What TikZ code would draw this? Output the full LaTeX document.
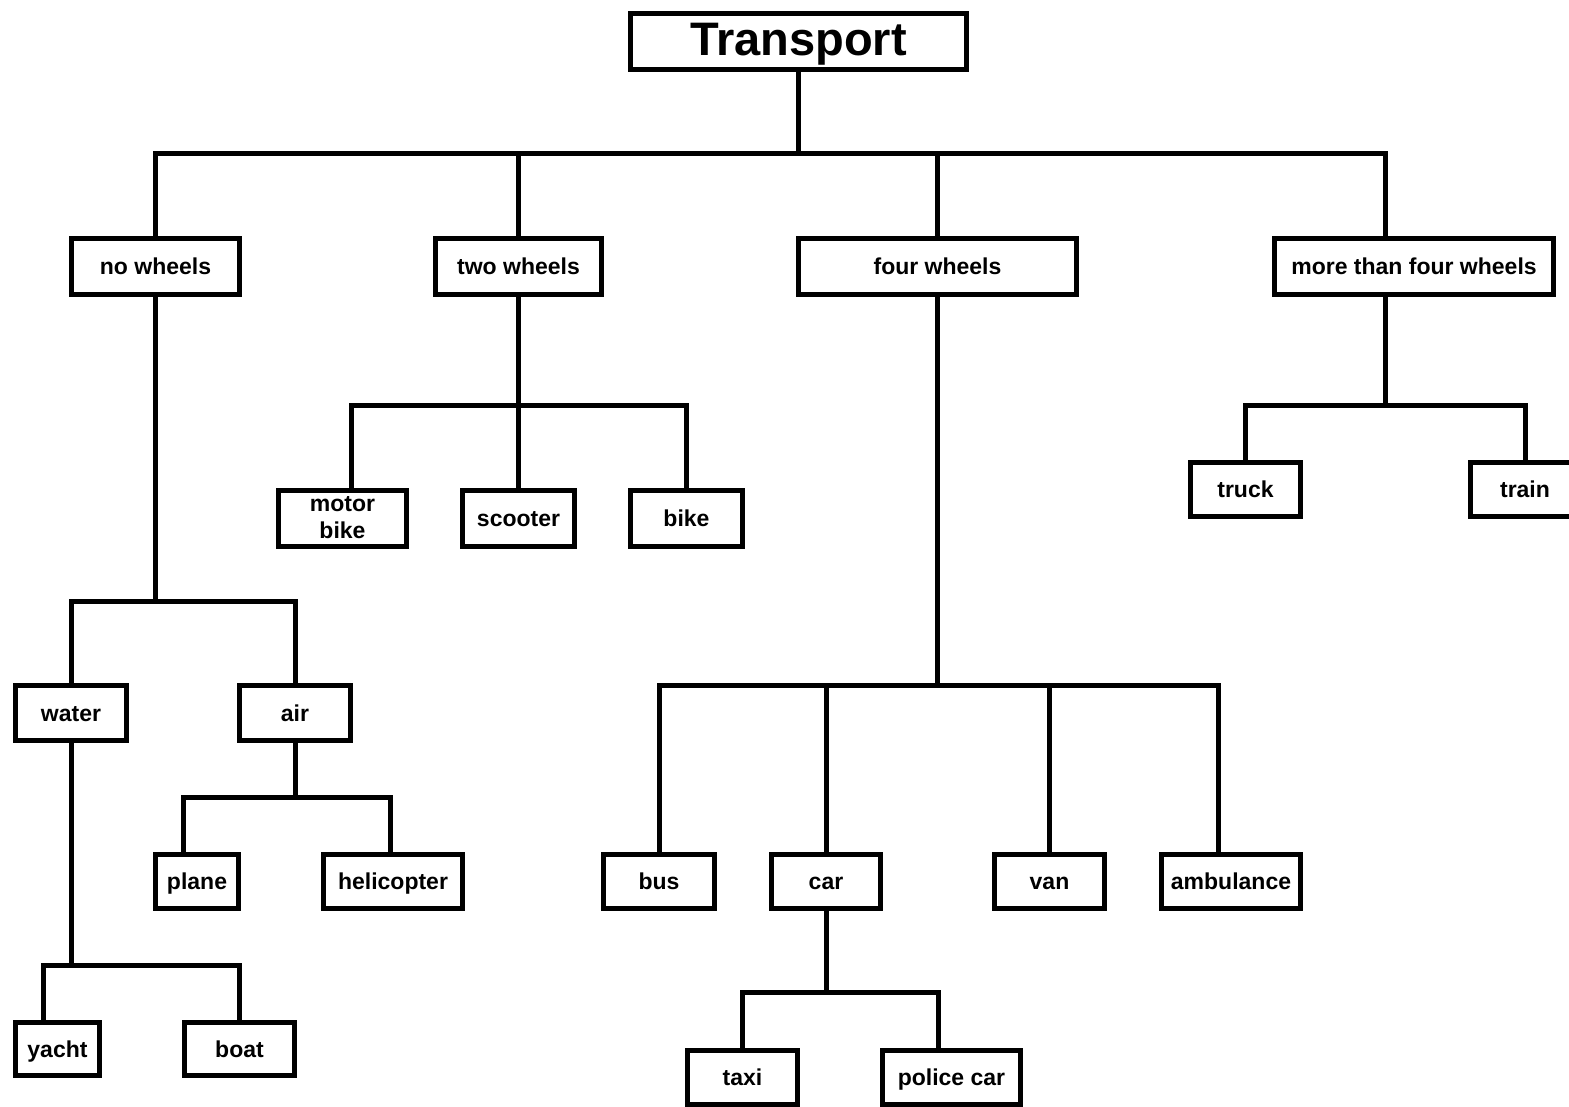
\documentclass[tikz,border=0pt]{standalone}
\usepackage{fontspec}
\setmainfont{Liberation Sans}
\begin{document}
\begin{tikzpicture}[x=1pt,y=-1pt,
  boxbase/.style={draw=black,line width=5pt,fill=white,inner sep=0pt,
    font=\fontsize{23}{27}\selectfont\bfseries,align=center,minimum height=56pt},
  box/.style={boxbase,text height=16pt,text depth=0pt},
  conn/.style={draw=black,line width=5pt,line join=miter}]
\useasboundingbox (0,0) rectangle (1569,1106);
% nodes
\node[box,minimum width=336pt,minimum height=56pt,
  font=\fontsize{47}{50}\selectfont\bfseries,text height=27pt] (T) at (798.5,41.5) {Transport};
\node[box,minimum width=168pt] (nw) at (155.5,266) {no wheels};
\node[box,minimum width=166pt] (tw) at (518.5,266) {two wheels};
\node[box,minimum width=278pt] (fw) at (937.5,266) {four wheels};
\node[box,minimum width=279pt] (mtf) at (1414,266) {more than four wheels};
\node[boxbase,minimum width=128pt] (mb) at (342.5,518) {motor\\bike};
\node[box,minimum width=112pt] (sc) at (518.5,518) {scooter};
\node[box,minimum width=112pt] (bk) at (686.5,518) {bike};
\node[box,minimum width=110pt,minimum height=54pt] (tr) at (1245.5,489.5) {truck};
\node[box,minimum width=110pt,minimum height=54pt] (tn) at (1525,489.5) {train};
\node[box,minimum width=111pt,minimum height=55pt] (wa) at (71,713) {water};
\node[box,minimum width=111pt,minimum height=55pt] (ai) at (295,713) {air};
\node[box,minimum width=83pt,minimum height=54pt] (pl) at (197,881.5) {plane};
\node[box,minimum width=139pt,minimum height=54pt] (he) at (393,881.5) {helicopter};
\node[box,minimum width=84pt,minimum height=53pt] (ya) at (57.5,1049) {yacht};
\node[box,minimum width=110pt,minimum height=53pt] (bo) at (239.5,1049) {boat};
\node[box,minimum width=111pt,minimum height=54pt] (bu) at (659,881) {bus};
\node[box,minimum width=109pt,minimum height=54pt] (ca) at (826,881) {car};
\node[box,minimum width=110pt,minimum height=54pt] (va) at (1049.5,881) {van};
\node[box,minimum width=139pt,minimum height=54pt] (am) at (1231,881) {ambulance};
\node[box,minimum width=110pt,minimum height=54pt] (tx) at (742.5,1077) {taxi};
\node[box,minimum width=138pt,minimum height=54pt] (pc) at (951.5,1077) {police car};
% junction coordinates
\coordinate (j0) at (798.5,153.5);
\coordinate (h0a) at (155.5,153.5);
\coordinate (h0b) at (1385.5,153.5);
\coordinate (h1a) at (351,405.5);
\coordinate (h1b) at (686.5,405.5);
\coordinate (h2a) at (1245.5,405.5);
\coordinate (h2b) at (1525,405.5);
\coordinate (h3a) at (71,601);
\coordinate (h3b) at (295,601);
\coordinate (h4a) at (183,797);
\coordinate (h4b) at (390,797);
\coordinate (h5a) at (43.5,965.5);
\coordinate (h5b) at (239.5,965.5);
\coordinate (h6a) at (659,685.5);
\coordinate (h6b) at (1218,685.5);
\coordinate (h7a) at (742.5,992.5);
\coordinate (h7b) at (938,992.5);
% connectors
\draw[conn] (T.south) -- (j0);
\draw[conn] (nw.north) -- (h0a) -- (h0b) -- (h0b |- mtf.north);
\draw[conn] (tw.north |- h0a) -- (tw.north);
\draw[conn] (fw.north |- h0a) -- (fw.north);
\draw[conn] (tw.south) -- (sc.north);
\draw[conn] (h1a |- mb.north) -- (h1a) -- (h1b) -- (bk.north);
\draw[conn] (h0b |- mtf.south) -- (h0b |- h2a);
\draw[conn] (tr.north) -- (h2a) -- (h2b) -- (tn.north);
\draw[conn] (nw.south) -- (nw.south |- h3a);
\draw[conn] (wa.north) -- (h3a) -- (h3b) -- (ai.north);
\draw[conn] (ai.south) -- (ai.south |- h4a);
\draw[conn] (h4a |- pl.north) -- (h4a) -- (h4b) -- (h4b |- he.north);
\draw[conn] (wa.south) -- (wa.south |- h5a);
\draw[conn] (h5a |- ya.north) -- (h5a) -- (h5b) -- (bo.north);
\draw[conn] (fw.south) -- (fw.south |- h6a);
\draw[conn] (bu.north) -- (h6a) -- (h6b) -- (h6b |- am.north);
\draw[conn] (ca.north |- h6a) -- (ca.north);
\draw[conn] (va.north |- h6a) -- (va.north);
\draw[conn] (ca.south) -- (ca.south |- h7a);
\draw[conn] (tx.north) -- (h7a) -- (h7b) -- (h7b |- pc.north);
\end{tikzpicture}
\end{document}
